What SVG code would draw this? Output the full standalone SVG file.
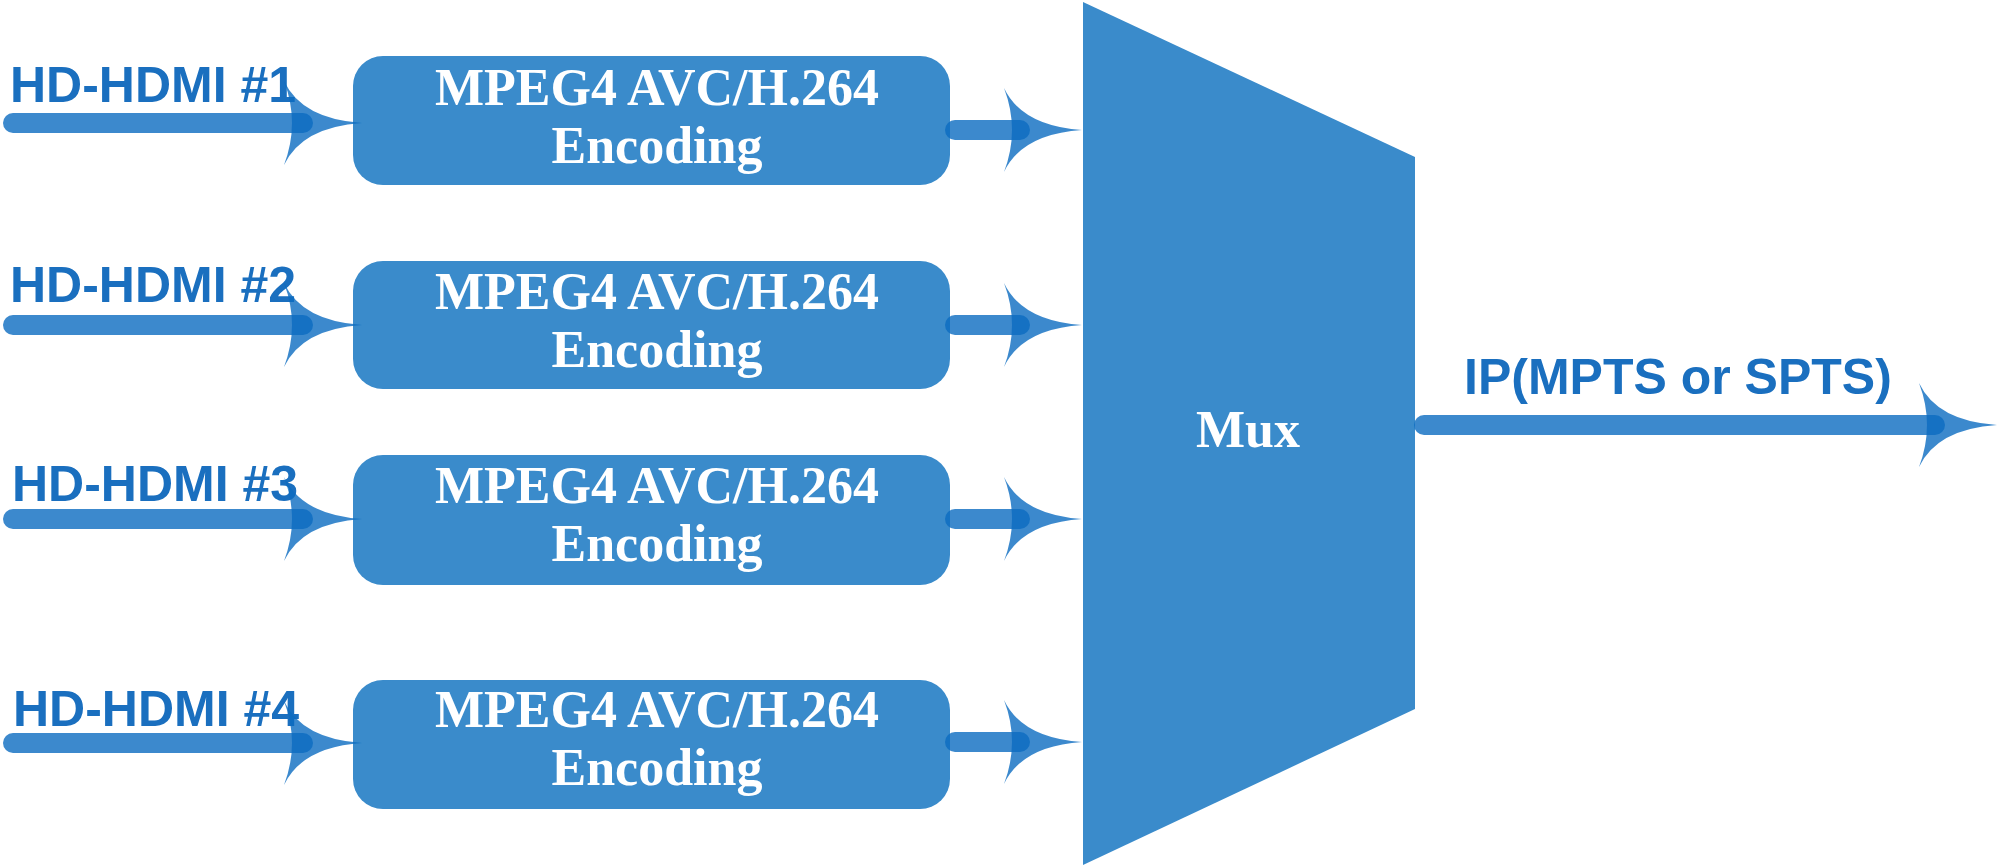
<svg xmlns="http://www.w3.org/2000/svg" width="2000" height="867" viewBox="0 0 2000 867">
<style>
.box{fill:#3a8bcb}
.bt{font-family:"Liberation Serif","Times New Roman",serif;font-weight:bold;font-size:52px;fill:#ffffff;text-anchor:middle}
.lbl{font-family:"Liberation Sans",Arial,sans-serif;font-weight:bold;font-size:50px;fill:#1a6fbf}
.ln{stroke:#0b6cc0;stroke-opacity:0.8;stroke-width:20;stroke-linecap:round;fill:none}
.ah{fill:#0b6cc0;fill-opacity:0.8}
</style>
<defs>
<path id="head" d="M0,0 Q-60,-4 -78,-42 Q-62,0 -78,42 Q-60,4 0,0 Z"/>
</defs>
<rect width="2000" height="867" fill="#ffffff"/>

<g id="mux">
<polygon class="box" points="1083,2 1415,157 1415,709 1083,865"/>
<text class="bt" x="1248" y="447">Mux</text>
</g>

<g id="enc1">
<rect class="box" x="353" y="56" width="597" height="129" rx="30"/>
<text class="bt" x="657" y="105">MPEG4 AVC/H.264</text>
<text class="bt" x="657" y="163">Encoding</text>
</g>
<g id="enc2">
<rect class="box" x="353" y="261" width="597" height="128" rx="30"/>
<text class="bt" x="657" y="309">MPEG4 AVC/H.264</text>
<text class="bt" x="657" y="367">Encoding</text>
</g>
<g id="enc3">
<rect class="box" x="353" y="455" width="597" height="130" rx="30"/>
<text class="bt" x="657" y="503">MPEG4 AVC/H.264</text>
<text class="bt" x="657" y="561">Encoding</text>
</g>
<g id="enc4">
<rect class="box" x="353" y="680" width="597" height="129" rx="30"/>
<text class="bt" x="657" y="727">MPEG4 AVC/H.264</text>
<text class="bt" x="657" y="785">Encoding</text>
</g>

<g id="in1"><text class="lbl" x="10" y="102">HD-HDMI #1</text></g>
<g id="in2"><text class="lbl" x="10" y="302">HD-HDMI #2</text></g>
<g id="in3"><text class="lbl" x="12" y="501">HD-HDMI #3</text></g>
<g id="in4"><text class="lbl" x="13" y="726">HD-HDMI #4</text></g>
<g id="out"><text class="lbl" x="1464" y="394">IP(MPTS or SPTS)</text></g>

<g id="connectors">
<line class="ln" x1="13" y1="123" x2="303" y2="123"/>
<use href="#head" class="ah" transform="translate(362,123)"/>
<line class="ln" x1="13" y1="325" x2="303" y2="325"/>
<use href="#head" class="ah" transform="translate(362,325)"/>
<line class="ln" x1="13" y1="519" x2="303" y2="519"/>
<use href="#head" class="ah" transform="translate(362,519)"/>
<line class="ln" x1="13" y1="743" x2="303" y2="743"/>
<use href="#head" class="ah" transform="translate(362,743)"/>

<line class="ln" x1="955" y1="130" x2="1020" y2="130"/>
<use href="#head" class="ah" transform="translate(1082,130)"/>
<line class="ln" x1="955" y1="325" x2="1020" y2="325"/>
<use href="#head" class="ah" transform="translate(1082,325)"/>
<line class="ln" x1="955" y1="519" x2="1020" y2="519"/>
<use href="#head" class="ah" transform="translate(1082,519)"/>
<line class="ln" x1="955" y1="742" x2="1020" y2="742"/>
<use href="#head" class="ah" transform="translate(1082,742)"/>

<line class="ln" x1="1424" y1="425" x2="1935" y2="425"/>
<use href="#head" class="ah" transform="translate(1997,425)"/>
</g>
</svg>
